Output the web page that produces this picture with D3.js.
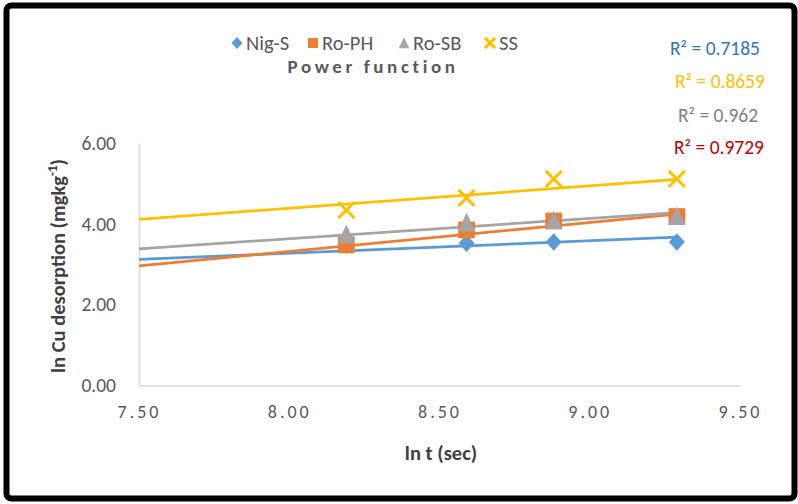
<!DOCTYPE html>
<html><head><meta charset="utf-8">
<script src="https://cdn.jsdelivr.net/npm/d3@7"></script>
<style>
body{margin:0;background:#fff;}
svg{display:block;font-family:Carlito,Calibri,Lato,"Open Sans",sans-serif;}
</style></head>
<body><svg id="c" width="798" height="504"></svg>
<script>
// ---- data ----
const seriesNames = ["Nig-S","Ro-PH","Ro-SB","SS"];
const seriesColors = ["#5B9BD5","#ED7D31","#A5A5A5","#FFC000"];
const lnT = [8.19, 8.59, 8.88, 9.29];
const nigS = [3.47, 3.52, 3.55, 3.55];
const roPH = [3.48, 3.85, 4.07, 4.18];
const roSB = [3.74, 4.03, 4.09, 4.19];
const ss   = [4.34, 4.64, 5.11, 5.11];
// trendline values at x = 7.50 and at last x
const trendX = [7.50, 9.29];
const trendNigS = [3.12, 3.67];
const trendRoPH = [2.96, 4.24];
const trendRoSB = [3.38, 4.28];
const trendSS   = [4.11, 5.10];
const r2Labels = ["R² = 0.7185","R² = 0.8659","R² = 0.962","R² = 0.9729"];
const r2Colors = ["#2E75B6","#FFC000","#7F7F7F","#C00000"];
const xTicks = [7.5, 8.0, 8.5, 9.0, 9.5];
const yTicks = [0, 2, 4, 6];

const svg = d3.select("#c");
const x = d3.scaleLinear().domain([7.5, 9.5]).range([139, 740]);
const y = d3.scaleLinear().domain([0, 6]).range([385.5, 143]);

// border
svg.append("rect").attr("x",6.5).attr("y",5.5).attr("width",788).attr("height",493)
  .attr("rx",5).attr("fill","#fff").attr("stroke","#000").attr("stroke-width",6);

// axes
const xAxis = svg.append("g").attr("transform","translate(0,385.5)")
  .call(d3.axisBottom(x).tickValues(xTicks).tickFormat(d3.format(".2f")).tickSize(0).tickPadding(20));
xAxis.select(".domain").attr("stroke","#D9D9D9").attr("stroke-width",1.5);
xAxis.selectAll("text").attr("fill","#595959").attr("font-size",18).attr("letter-spacing","3px")
  .attr("font-family","Carlito,Calibri,Lato,sans-serif");

const yAxis = svg.append("g").attr("transform","translate(139,0)")
  .call(d3.axisLeft(y).tickValues(yTicks).tickFormat(d3.format(".2f")).tickSize(0).tickPadding(23));
yAxis.select(".domain").attr("stroke","#D9D9D9").attr("stroke-width",1.5);
yAxis.selectAll("text").attr("fill","#595959").attr("font-size",19.5)
  .attr("font-family","Carlito,Calibri,Lato,sans-serif");

// trendlines
const trends = [trendNigS, trendRoPH, trendRoSB, trendSS];
const seriesVals = [nigS, roPH, roSB, ss];
const line = d3.line().x(d=>x(d[0])).y(d=>y(d[1]));
const order = [0,1,2,3];
order.forEach(i=>{
  svg.append("path").datum(trendX.map((t,j)=>[t, trends[i][j]]))
    .attr("d",line).attr("fill","none").attr("stroke",seriesColors[i]).attr("stroke-width",2.75);
});

// markers
function drawMarker(g, type, cx, cy, color, s){
  if(type===0){
    g.append("path").attr("d",`M${cx},${cy-s*1.1}L${cx+s},${cy}L${cx},${cy+s*1.1}L${cx-s},${cy}Z`).attr("fill",color);
  } else if(type===1){
    g.append("rect").attr("x",cx-s*0.9).attr("y",cy-s*0.9).attr("width",s*1.8).attr("height",s*1.8).attr("fill",color);
  } else if(type===2){
    g.append("path").attr("d",`M${cx},${cy-s*1.05}L${cx+s*0.95},${cy+s*0.95}L${cx-s*0.95},${cy+s*0.95}Z`).attr("fill",color);
  } else {
    const k=s*0.85;
    g.append("path").attr("d",`M${cx-k},${cy-k}L${cx+k},${cy+k}M${cx+k},${cy-k}L${cx-k},${cy+k}`)
      .attr("stroke",color).attr("stroke-width",3).attr("fill","none");
  }
}
const mg = svg.append("g");
const mSize = [8, 9.3, 9.3, 9.5];
order.forEach(i=>{
  lnT.forEach((t,j)=>drawMarker(mg, i, x(t), y(seriesVals[i][j]), seriesColors[i], mSize[i]));
});

// legend
const legendX = [237, 313, 404, 490];
const lg = svg.append("g");
seriesNames.forEach((n,i)=>{
  drawMarker(lg, i, legendX[i], 43, seriesColors[i], i===3?6:5.5);
  lg.append("text").attr("x",legendX[i]+9).attr("y",50).attr("font-size",20.5)
    .attr("fill","#595959").text(n);
});
svg.append("text").attr("x",373).attr("y",73).attr("text-anchor","middle")
  .attr("font-size",19).attr("font-weight","bold").attr("letter-spacing","3.6px")
  .attr("fill","#595959").text("Power function");

// R² labels
const r2Y = [55, 88, 122, 154];
const r2X = [715, 720, 718, 719];
r2Labels.forEach((t,i)=>{
  svg.append("text").attr("x",r2X[i]).attr("y",r2Y[i]).attr("text-anchor","middle")
    .attr("font-size",19.5).attr("fill",r2Colors[i]).text(t);
});

// axis titles
svg.append("text").attr("x",441).attr("y",460).attr("text-anchor","middle")
  .attr("font-size",20.5).attr("font-weight","bold").attr("fill","#404040").text("ln t (sec)");
const yt = svg.append("text").attr("transform","translate(65,266) rotate(-90)")
  .attr("text-anchor","middle").attr("font-size",20.5).attr("font-weight","bold").attr("fill","#404040");
yt.append("tspan").text("ln Cu desorption (mgkg");
yt.append("tspan").attr("font-size",13).attr("dy",-8).text("-1");
yt.append("tspan").attr("dy",8).text(")");
</script></body></html>
